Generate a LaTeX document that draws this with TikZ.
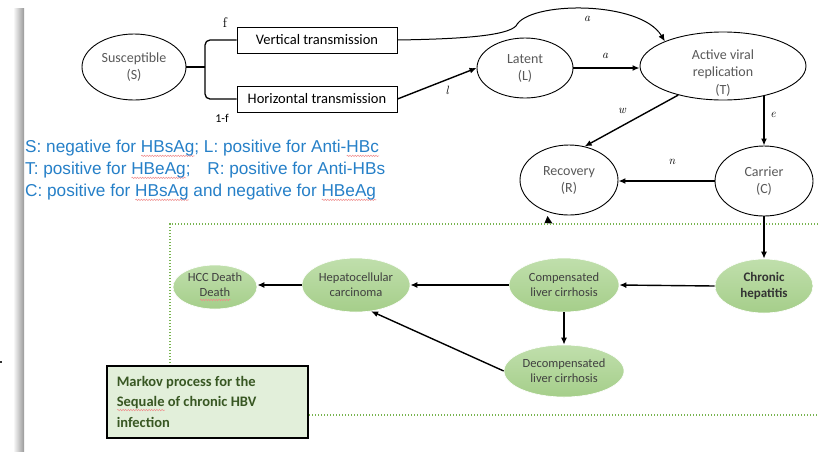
\documentclass[tikz,border=0pt]{standalone}
\usepackage{fontspec}
\newfontfamily\calfont{Carlito}
\newfontfamily\legendfont{Liberation Sans}
\usetikzlibrary{arrows.meta,shapes.geometric,decorations.pathmorphing}

\definecolor{legendblue}{RGB}{38,128,200}
\definecolor{ovaltext}{RGB}{89,89,89}
\definecolor{stagefill}{RGB}{165,206,138}
\definecolor{stagetop}{RGB}{192,223,172}
\definecolor{stagetext}{RGB}{64,64,64}
\definecolor{markovfill}{RGB}{226,239,218}
\definecolor{markovtext}{RGB}{56,87,35}
\definecolor{borderdot}{RGB}{120,180,80}
\definecolor{wavered}{RGB}{240,140,140}

% red wavy spell-check underline
\newsavebox\wavebox
\newcommand\spellwave[1]{\leavevmode\sbox\wavebox{#1}%
  \rlap{\tikz[baseline=0pt]{\draw[wavered, line width=0.5pt, decorate,
     decoration={snake, amplitude=0.7pt, segment length=2.6pt}]
     (0pt,-3.2pt) -- (\wd\wavebox,-3.2pt);}}\usebox\wavebox}

\tikzset{
  state/.style={ellipse, draw, line width=0.9pt, fill=white, inner sep=0pt,
    font=\calfont\fontsize{14}{17}\selectfont, text=ovaltext, align=center},
  stage/.style={ellipse, draw=white, line width=0.6pt, top color=stagetop,
    bottom color=stagefill, inner sep=0pt,
    font=\calfont\fontsize{12.5}{15}\selectfont, text=stagetext, align=center},
  route/.style={draw, line width=0.9pt, minimum width=160pt, minimum height=26pt,
    inner sep=0pt, font=\calfont\fontsize{14.5}{16}\selectfont},
  flow/.style={line width=1.4pt, -{Latex[length=7pt,width=6pt]}},
  thinflow/.style={line width=1pt, -{Latex[length=7pt,width=6pt]}},
  rate/.style={font=\itshape\fontsize{12}{14}\selectfont, inner sep=0pt},
  dotline/.style={draw=borderdot, line width=1.5pt, dash pattern=on 1.3pt off 1.7pt},
  markov/.style={draw, line width=1.6pt, fill=markovfill, inner sep=0pt,
    font=\calfont\bfseries\fontsize{14.5}{20.5}\selectfont, text=markovtext,
    align=flush left, text width=189pt},
  legend/.style={font=\legendfont\fontsize{17.2}{22}\selectfont, text=legendblue,
    align=left, inner sep=0pt}
}

\begin{document}
\begin{tikzpicture}[x=1pt,y=-1pt]
\useasboundingbox (0,0) rectangle (819,451);
\fill[white] (0,0) rectangle (819,451);

% page edge shadow on the left
\shade[left color=white, right color=gray!80] (13,8) rectangle (24,451);
\fill[black!80] (0,361) rectangle (2,363);

% upper compartment model
\node[state, minimum width=104pt, minimum height=66pt] (sus) at (134,67) {Susceptible\\(S)};
\node[route] (vt) at (317,40) {Vertical transmission};
\node[route] (ht) at (317,99) {Horizontal transmission};
\node[state, minimum width=96pt, minimum height=60pt] (lat) at (525,68) {Latent\\(L)};
\node[state, minimum width=166pt, minimum height=68pt] (act) at (723,66) {};
\node[font=\calfont\fontsize{14}{17.5}\selectfont, text=ovaltext, align=center, inner sep=0pt]
  (actlabel) at (723,73) {Active viral\\replication\\(T)};
\node[state, minimum width=98pt, minimum height=70pt] (rec) at (569,180) {Recovery\\(R)};
\node[state, minimum width=98pt, minimum height=70pt] (car) at (764,181) {Carrier\\(C)};

% split of the susceptible group
\coordinate (fork) at (205,67);
\draw[line width=1.3pt] (sus.east) -- (fork);
\draw[line width=1.3pt, rounded corners=5pt] (vt.west) -| (fork) |- (ht.west);
\node[font=\fontsize{14}{16}\selectfont, inner sep=0pt] (flab) at (225,23) {f};
\node[font=\calfont\fontsize{12}{14}\selectfont, inner sep=0pt] (nflab) at (222,118) {1-f};

% transitions
\draw[thinflow] (vt.east) .. controls (460,39) and (506,36) .. (516,26)
  .. controls (528,1) and (640,0) .. (act.157);
\node[rate] (a1) at (587,19) {a};
\draw[flow] (ht.east) -- (lat.west);
\node[rate] (l1) at (447,90) {l};
\draw[flow] (lat.east) -- (act.west |- lat.east);
\node[rate] (a2) at (605,56) {a};
\draw[flow] (act.213) -- (rec.65);
\node[rate] (w1) at (622,111) {w};
\draw[flow] (act.-36 -| car.north) -- (car.north);
\node[rate] (e1) at (773,115) {e};
\draw[flow] (car.west) -- (rec.east |- car.west);
\node[rate] (n1) at (672,162) {n};
\fill (547.5,216) -- (552.5,223.5) -- (544.5,223) -- cycle;

% legend
\node[legend, anchor=north west] (key) at (25,140)
  {S: negative for \spellwave{HBsAg}; L: positive for Anti-\spellwave{HBc}\\
   T: positive for \spellwave{HBeAg};\hspace{12pt} R: positive for Anti-HBs\\
   C: positive for \spellwave{HBsAg} and negative for \spellwave{HBeAg}};

% Markov sequelae compartment
\draw[dotline] (170,363) -- (170,224) -- (819,224);
\draw[dotline] (309,415) -- (819,415);

\node[stage, minimum width=98pt, minimum height=54pt,
  font=\calfont\bfseries\fontsize{13}{16}\selectfont, text=black!80]
  (chr) at (764,286) {Chronic\\hepatitis};
\node[stage, minimum width=110pt, minimum height=54pt] (comp) at (564,285) {Compensated\\liver cirrhosis};
\node[stage, minimum width=120pt, minimum height=52pt] (dec) at (564,371) {Decompensated\\liver cirrhosis};
\node[stage, minimum width=108pt, minimum height=54pt] (hep) at (356,285) {Hepatocellular\\carcinoma};
\node[stage, minimum width=84pt, minimum height=44pt] (hcc) at (215,287) {HCC Death\\\spellwave{Death}};

\draw[flow] (car.south) -- (chr.north);
\draw[flow] (chr.west) -- (comp.east);
\draw[flow] (comp.south) -- (dec.north);
\draw[flow] (comp.west) -- (hep.east);
\draw[flow] (dec.west) -- (hep.-60);
\draw[flow] (hep.west) -- (hcc.east |- hep.west);

\node[markov, minimum width=201pt, minimum height=72pt, anchor=north west] (mk) at (106,365)
  {\hspace*{4pt}Markov process for the\\\hspace*{4pt}\spellwave{Sequale} of chronic HBV\\\hspace*{4pt}infection};
\end{tikzpicture}
\end{document}
